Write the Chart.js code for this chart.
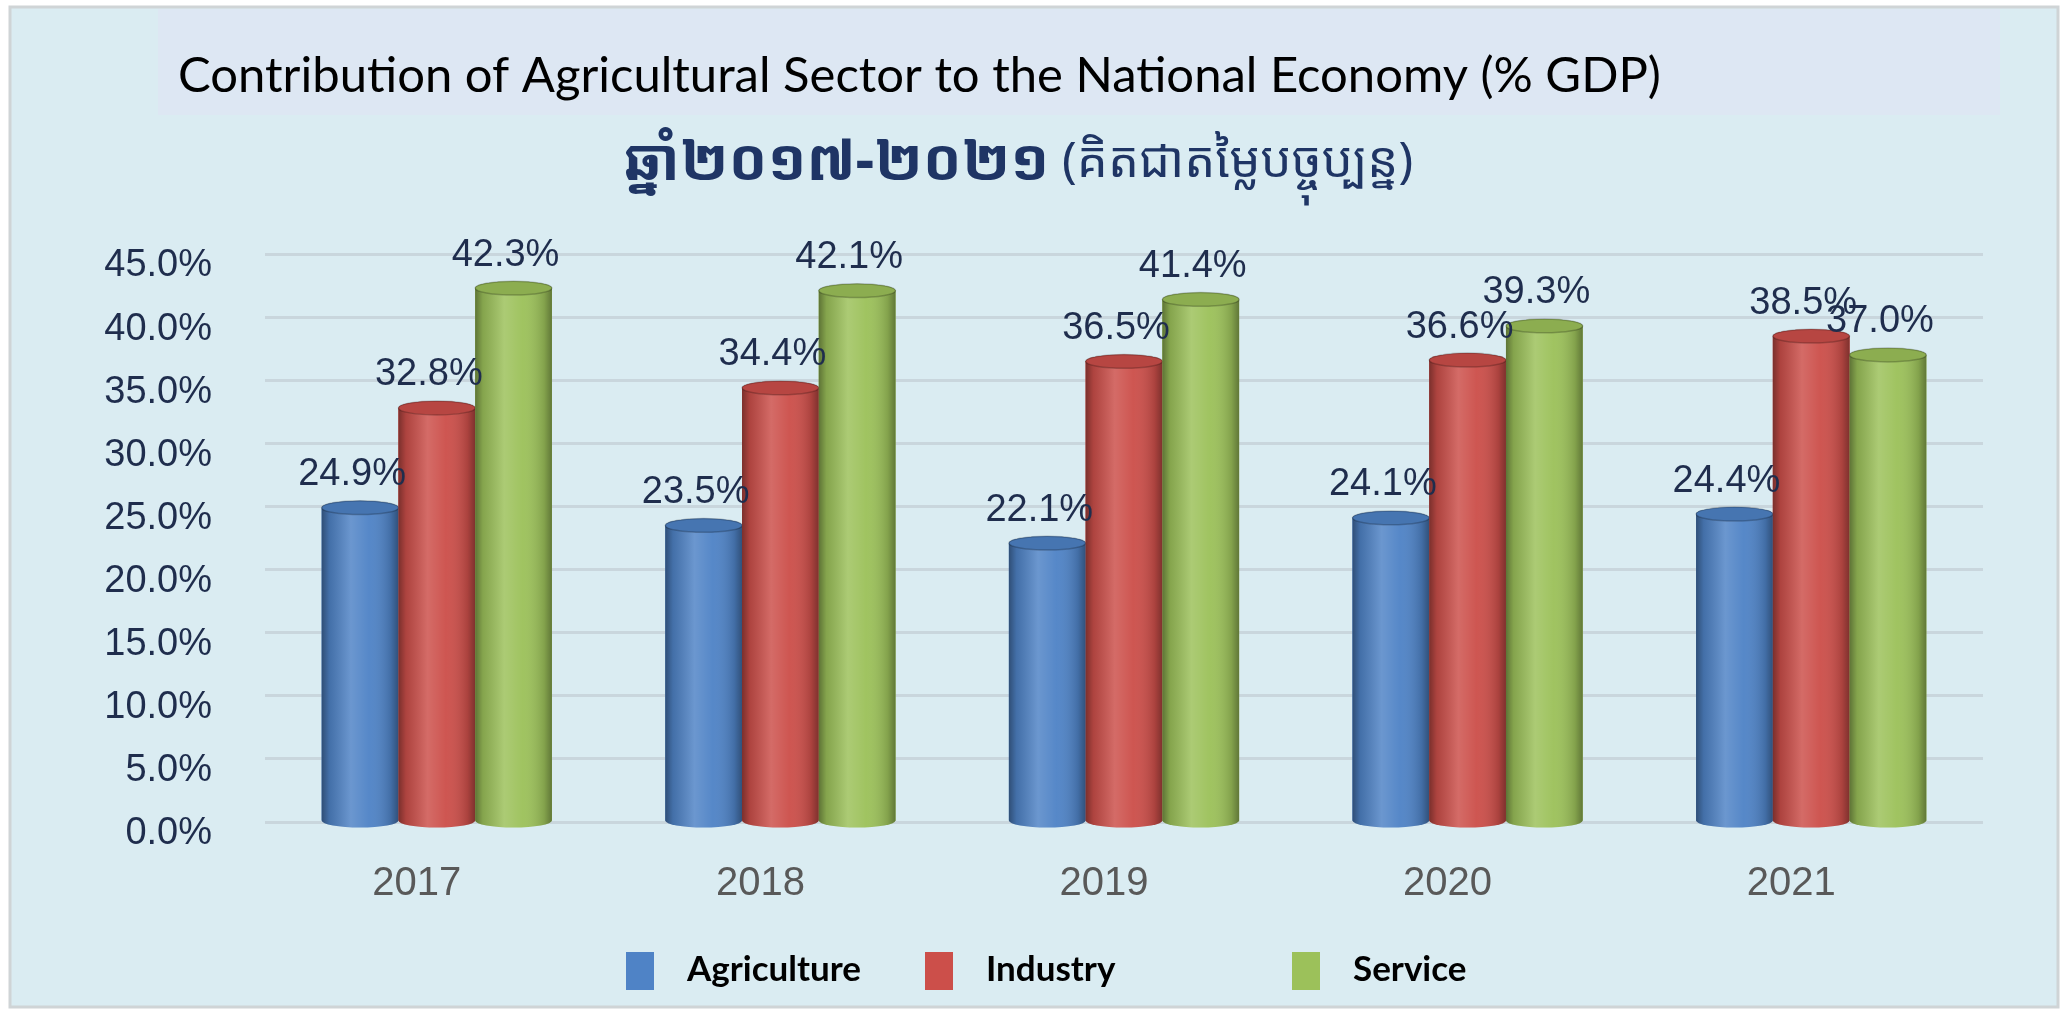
<!DOCTYPE html>
<html lang="en">
<head>
    <meta charset="UTF-8">
    <title>Contribution of Agricultural Sector</title>
    <script src="https://cdn.jsdelivr.net/npm/chart.js"></script>
    <style>
        html, body { margin: 0; padding: 0; background: #ffffff; }
        #wrap { width: 2067px; height: 1009px; position: relative; }
    </style>
</head>
<body>
    <div id="wrap">
        <canvas id="gdpChart"></canvas>
    </div>

    <script>
        // values
        const years = ['2017', '2018', '2019', '2020', '2021'];
        const agriculture = [24.9, 23.5, 22.1, 24.1, 24.4];
        const industry = [32.8, 34.4, 36.5, 36.6, 38.5];
        const service = [42.3, 42.1, 41.4, 39.3, 37.0];
        const seriesNames = ['Agriculture', 'Industry', 'Service'];
        const seriesColors = ['#4f83c6', '#cc4f4a', '#9cc15a'];

        const titleText = 'Contribution of Agricultural Sector to the National Economy (% GDP)';
        const subtitleBold = 'ឆ្នាំ២០១៧-២០២១';
        const subtitleRest = ' (គិតជាតម្លៃបច្ចុប្បន្ន)';

        const khmerFont = "'Noto Sans Khmer', 'Khmer OS', 'Khmer OS System', 'Noto Sans', sans-serif";

        function fitFont(ctx, text, weight, family, targetWidth) {
            ctx.font = weight + ' 100px ' + family;
            const w = ctx.measureText(text).width;
            return Math.round(100 * targetWidth / w);
        }

        // panel, title band and titles
        const backdrop = {
            id: 'backdrop',
            beforeDraw(chart) {
                const ctx = chart.ctx;
                ctx.save();
                ctx.fillStyle = '#ffffff';
                ctx.fillRect(0, 0, chart.width, chart.height);
                ctx.fillStyle = '#daecf2';
                ctx.fillRect(11, 8, 2046, 998);
                ctx.strokeStyle = '#cfd4d6';
                ctx.lineWidth = 3;
                ctx.strokeRect(10, 7, 2048, 1000);
                ctx.fillStyle = '#dde7f3';
                ctx.fillRect(158, 9, 1842, 106);
                ctx.restore();
            },
            afterDraw(chart) {
                const ctx = chart.ctx;
                ctx.save();
                // english title
                const ts = fitFont(ctx, titleText, 'normal', 'Lato', 1480);
                ctx.font = 'normal ' + ts + 'px Lato';
                ctx.fillStyle = '#000000';
                ctx.textAlign = 'left';
                ctx.textBaseline = 'middle';
                ctx.fillText(titleText, 178, 76);

                // khmer subtitle
                ctx.font = 'bold 58px ' + khmerFont;
                const w1 = ctx.measureText(subtitleBold).width;
                ctx.font = 'normal 49px ' + khmerFont;
                const w2 = ctx.measureText(subtitleRest).width;
                let sx = 1018 - (w1 + w2) / 2;
                ctx.fillStyle = '#1f3565';
                ctx.font = 'bold 58px ' + khmerFont;
                ctx.fillText(subtitleBold, sx, 163);
                ctx.font = 'normal 49px ' + khmerFont;
                ctx.fillText(subtitleRest, sx + w1, 163);

                // legend
                const ls = fitFont(ctx, 'Agriculture', 'bold', 'Lato', 174);
                const legendX = [626, 925, 1292];
                ctx.font = 'bold ' + ls + 'px Lato';
                seriesNames.forEach((name, i) => {
                    ctx.fillStyle = seriesColors[i];
                    ctx.fillRect(legendX[i], 952, 28, 38);
                    ctx.fillStyle = '#000000';
                    ctx.fillText(name, legendX[i] + 61, 970);
                });
                ctx.restore();
            }
        };

        // cylinder shading and value labels on top of the bars
        const cylinders = {
            id: 'cylinders',
            afterDatasetsDraw(chart) {
                const ctx = chart.ctx;
                ctx.save();
                chart.data.datasets.forEach((ds, di) => {
                    const meta = chart.getDatasetMeta(di);
                    meta.data.forEach(el => {
                        const { x, y, width, base } = el.getProps(['x', 'y', 'width', 'base'], true);
                        const rx = width / 2;
                        const ry = width * 0.09;
                        const left = x - rx;

                        ctx.beginPath();
                        ctx.moveTo(left, y);
                        ctx.lineTo(left, base);
                        ctx.ellipse(x, base, rx, ry, 0, Math.PI, 0, true);
                        ctx.lineTo(left + width, y);
                        ctx.ellipse(x, y, rx, ry, 0, 0, Math.PI, true);
                        ctx.closePath();
                        ctx.fillStyle = ds.backgroundColor;
                        ctx.fill();

                        const g = ctx.createLinearGradient(left, 0, left + width, 0);
                        g.addColorStop(0, 'rgba(0,0,0,0.40)');
                        g.addColorStop(0.10, 'rgba(0,0,0,0.15)');
                        g.addColorStop(0.38, 'rgba(255,255,255,0.16)');
                        g.addColorStop(0.62, 'rgba(255,255,255,0.04)');
                        g.addColorStop(0.90, 'rgba(0,0,0,0.16)');
                        g.addColorStop(1, 'rgba(0,0,0,0.38)');
                        ctx.fillStyle = g;
                        ctx.fill();

                        ctx.beginPath();
                        ctx.ellipse(x, y, rx, ry, 0, 0, Math.PI * 2);
                        ctx.fillStyle = ds.backgroundColor;
                        ctx.fill();
                        ctx.fillStyle = 'rgba(0,0,0,0.10)';
                        ctx.fill();
                        ctx.strokeStyle = 'rgba(0,0,0,0.22)';
                        ctx.lineWidth = 1.5;
                        ctx.stroke();
                    });
                });

                ctx.font = '38px "Liberation Sans", Arial, sans-serif';
                ctx.fillStyle = '#1f2d4d';
                ctx.textAlign = 'center';
                ctx.textBaseline = 'middle';
                chart.data.datasets.forEach((ds, di) => {
                    const meta = chart.getDatasetMeta(di);
                    meta.data.forEach((el, i) => {
                        const { x, y } = el.getProps(['x', 'y'], true);
                        ctx.fillText(ds.data[i].toFixed(1) + '%', x - 8, y - 33);
                    });
                });
                ctx.restore();
            }
        };

        const chart = new Chart(document.getElementById('gdpChart'), {
            type: 'bar',
            data: {
                labels: years,
                datasets: [
                    { label: seriesNames[0], data: agriculture, backgroundColor: seriesColors[0] },
                    { label: seriesNames[1], data: industry, backgroundColor: seriesColors[1] },
                    { label: seriesNames[2], data: service, backgroundColor: seriesColors[2] }
                ]
            },
            options: {
                responsive: true,
                maintainAspectRatio: false,
                animation: false,
                layout: { padding: { top: 254, right: 84, left: 0, bottom: 0 } },
                datasets: {
                    bar: { categoryPercentage: 0.67, barPercentage: 1.0, borderWidth: 0 }
                },
                plugins: {
                    legend: { display: false },
                    title: { display: false },
                    tooltip: { enabled: false }
                },
                scales: {
                    x: {
                        grid: { display: false, drawTicks: false },
                        border: { display: false },
                        ticks: {
                            color: '#595959',
                            font: { family: 'Liberation Sans', size: 40 },
                            labelOffset: -20,
                            padding: 38
                        },
                        afterFit(scale) { scale.height = 187; }
                    },
                    y: {
                        min: 0,
                        max: 45,
                        grid: { color: '#c9d6dd', lineWidth: 3, drawTicks: false },
                        border: { display: false },
                        ticks: {
                            stepSize: 5,
                            color: '#1f2d4d',
                            font: { family: 'Liberation Sans', size: 38 },
                            padding: 53,
                            labelOffset: 12,
                            callback: v => v.toFixed(1) + '%'
                        },
                        afterFit(scale) { scale.width = 265; }
                    }
                }
            },
            plugins: [backdrop, cylinders]
        });
    </script>
</body>
</html>
